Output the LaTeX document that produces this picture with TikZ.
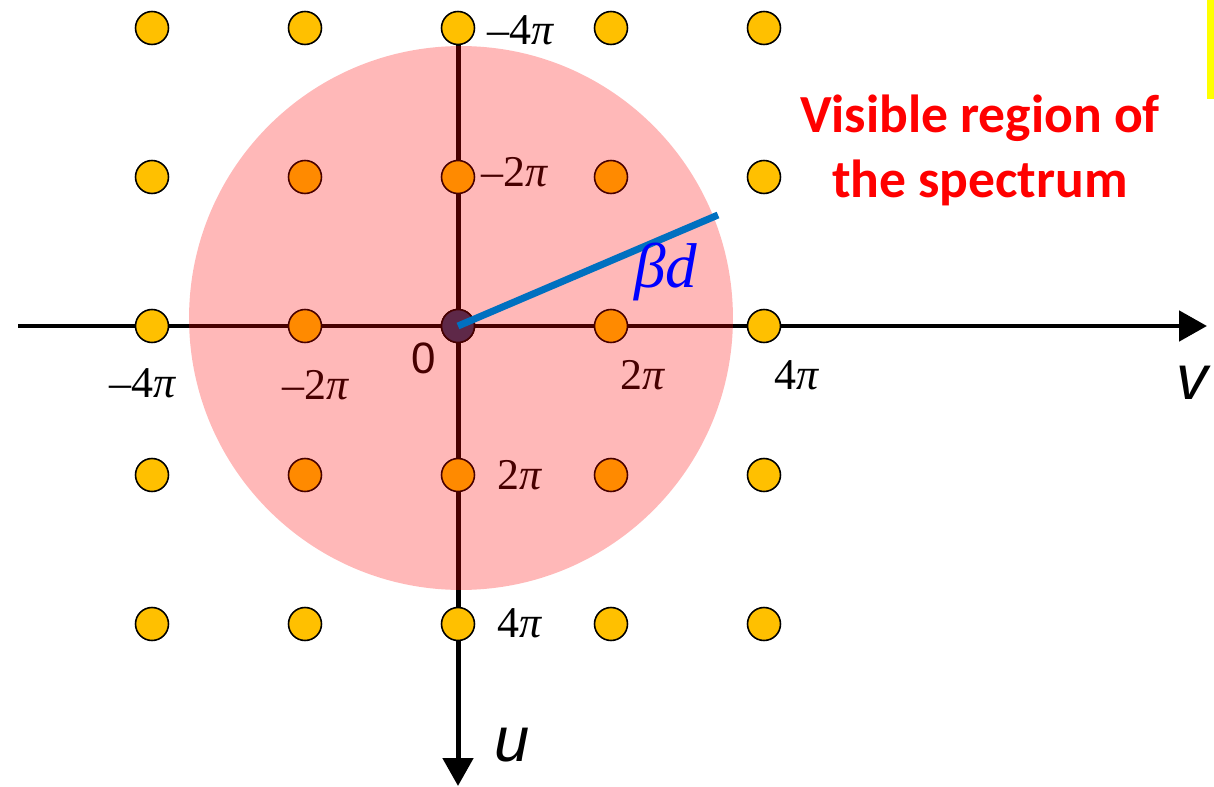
\documentclass[tikz,border=0pt]{standalone}
\usepackage{fontspec}
\setmainfont{Liberation Serif}
\newfontfamily\arialf{Liberation Sans}
\newfontfamily\calibf{Carlito}
\usetikzlibrary{arrows.meta}
\definecolor{dotyellow}{HTML}{FFC000}
\definecolor{dotblue}{HTML}{203864}
\definecolor{linkblue}{HTML}{0070C0}
\definecolor{marker}{HTML}{FFFF00}

\begin{document}
\begin{tikzpicture}[
    x=0.02cm, y=-0.02cm,
    dot/.style={circle, draw, fill=dotyellow, minimum size=0.66cm, inner sep=0pt, line width=0.9pt},
    ticklabel/.style={font=\fontsize{25}{29}\selectfont, inner sep=0pt},
    axislabel/.style={font=\arialf\itshape\fontsize{36}{40}\selectfont, inner sep=0pt},
    axis/.style={line width=0.1cm, -{Triangle[length=0.56cm, width=0.6cm]}},
  ]
  \useasboundingbox (0,0) rectangle (1214,787);
  % axes
  \coordinate (vL) at (18,326);
  \coordinate (vR) at (1207,326);
  \coordinate (uT) at (458,28);
  \coordinate (uB) at (458,786);
  \draw[axis] (vL) -- (vR);
  \draw[axis] (uT) -- (uB);
  % lattice of spectral copies
  \foreach \i in {0,...,4}
    \foreach \j in {0,...,4}
      \node[dot] (p\i\j) at ({152+153*\i},{28+149*\j}) {};
  \node[dot, fill=dotblue] (p22) at (458,326) {};
  % tick labels
  \node[ticklabel] (h0) at (143,383) {\textendash 4\textit{π}};
  \node[ticklabel] (h1) at (316,385) {\textendash 2\textit{π}};
  \node[ticklabel, font=\arialf\fontsize{25}{28}\selectfont] (zero) at (424,358) {0};
  \node[ticklabel] (h3) at (643,375) {2\textit{π}};
  \node[ticklabel] (h4) at (797,375) {4\textit{π}};
  \node[ticklabel, anchor=west] (w0) at (487,30) {\textendash 4\textit{π}};
  \node[ticklabel, anchor=west] (w1) at (481,172) {\textendash 2\textit{π}};
  \node[ticklabel, anchor=west] (w3) at (497,475) {2\textit{π}};
  \node[ticklabel, anchor=west] (w4) at (497,623) {4\textit{π}};
  \node[axislabel] (v) at (1192,383) {v};
  \node[axislabel] (u) at (512,745) {u};
  % visible region
  \fill[red, opacity=0.28] (461,318) circle [radius=5.44cm];
  \coordinate (bd) at (718,215);
  \draw[linkblue, line width=0.14cm] (p22.center) -- (bd);
  \node[text=blue, font=\fontsize{36}{40}\selectfont] (bdlabel) at (666,272) {\textit{βd}};
  \node[text=red, font=\calibf\bfseries\fontsize{30.5}{37}\selectfont, align=center] (vis) at (980,150) {Visible region of\\the spectrum};
  \fill[marker] (1207,0) rectangle (1214,99);
\end{tikzpicture}
\end{document}
